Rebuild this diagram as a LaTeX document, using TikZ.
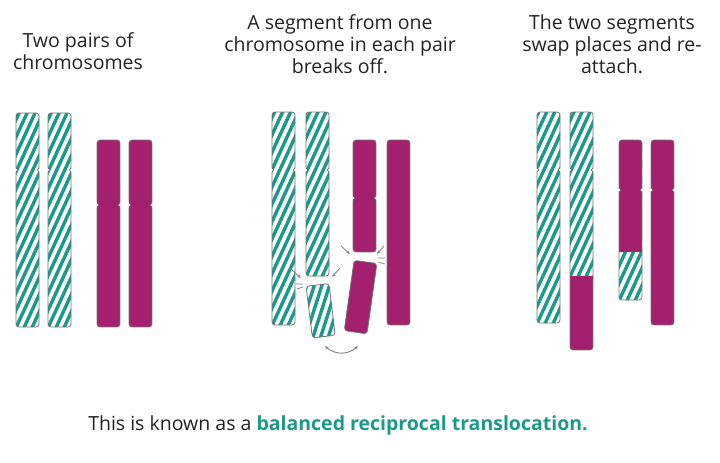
\documentclass[tikz,border=0pt]{standalone}
\usepackage{fontspec}
\setmainfont{Open Sans}
\usetikzlibrary{arrows.meta}
\definecolor{tl}{HTML}{1B9A8C}
\definecolor{mg}{HTML}{A3206E}
\definecolor{txt}{HTML}{222222}
\newcommand\gpart[3]{\fill[white](#1,#2) rectangle (#1+23,#3);
 \foreach \k in {-130,-122,...,30}{\draw[tl,line width=3.4pt] (#1+\k,#3+5) -- ++(120,-260);}}
\newcommand\mpart[3]{\fill[mg](#1,#2) rectangle (#1+23,#3);}
\newcommand\chrom[4]{\begin{scope}\clip[rounded corners=3](#1,#2) rectangle (#1+23,#3); #4 \end{scope}
 \draw[black!55,line width=0.8pt,rounded corners=3](#1,#2) rectangle (#1+23,#3);}
\newcommand\notch[2]{\fill[white] (#1-1,#2-2.5)--(#1+1.8,#2)--(#1-1,#2+2.5)--cycle; \fill[white] (#1+24,#2-2.5)--(#1+21.2,#2)--(#1+24,#2+2.5)--cycle;
 \draw[black!55,line width=0.8pt] (#1,#2-2)--(#1+1.8,#2)--(#1,#2+2) (#1+23,#2-2)--(#1+21.2,#2)--(#1+23,#2+2);}
\begin{document}
\begin{tikzpicture}[x=1pt,y=-1pt,
  ttl/.style={align=center,font=\fontsize{19.5}{22}\selectfont,text=txt},
  arr/.style={gray,line width=0.8pt,-{Stealth[length=4pt]}}]
\useasboundingbox (0,0) rectangle (720,463);
% titles
\node[ttl] (t1) at (78,51) {Two pairs of\\chromosomes};
\node[ttl] (t2) at (340,44) {A segment from one\\chromosome in each pair\\breaks off.};
\node[ttl] (t3) at (612,44) {The two segments\\swap places and re-\\attach.};
\node[ttl] (bt) at (338,425) {This is known as a \textcolor{tl}{\bfseries balanced reciprocal translocation.}};
% panel 1
\chrom{16}{113}{327}{\gpart{16}{113}{327}} \notch{16}{170}
\chrom{48}{113}{327}{\gpart{48}{113}{327}} \notch{48}{170}
\chrom{97}{140}{327}{\mpart{97}{140}{327}} \notch{97}{205}
\chrom{129}{140}{327}{\mpart{129}{140}{327}} \notch{129}{205}
% panel 2
\chrom{272}{112}{325}{\gpart{272}{112}{325}} \notch{272}{170}
\chrom{306}{112}{276}{\gpart{306}{112}{276}} \notch{306}{170}
\begin{scope}[rotate around={7:(317,285)}]
\chrom{306}{285}{337}{\gpart{306}{285}{337}}
\end{scope}
\chrom{353}{140}{252}{\mpart{353}{140}{252}} \notch{353}{198}
\begin{scope}[rotate around={-8:(366,262)}]
\chrom{354}{262}{333}{\mpart{354}{262}{333}}
\end{scope}
\chrom{387}{140}{325}{\mpart{387}{140}{325}}
% break arrows
\coordinate (a1) at (292,270); \coordinate (a1e) at (301,278);
\coordinate (a2) at (340,268); \coordinate (a2e) at (332,277);
\coordinate (a3) at (341,246); \coordinate (a3e) at (350,254);
\coordinate (a4) at (384,246); \coordinate (a4e) at (377,254);
\draw[arr] (a1) -- (a1e); \draw[arr] (a2) -- (a2e);
\draw[arr] (a3) -- (a3e); \draw[arr] (a4) -- (a4e);
\draw[gray,line width=0.7pt] (296,284)--(303,284) (297,289)--(303,287);
\draw[gray,line width=0.7pt] (378,258)--(385,258) (378,262)--(385,264);
\coordinate (s1) at (325,346); \coordinate (s2) at (358,346);
\draw[gray,line width=0.9pt,{Stealth[length=4pt]}-{Stealth[length=4pt]}] (s1) .. controls (335,355) and (348,355) .. (s2);
% panel 3
\chrom{537}{112}{323}{\gpart{537}{112}{323}} \notch{537}{170}
\chrom{570}{112}{350}{\gpart{570}{112}{276}\mpart{570}{276}{350}} \notch{570}{170}
\chrom{619}{140}{300}{\gpart{619}{252}{300}\mpart{619}{140}{252}} \notch{619}{190}
\chrom{651}{140}{325}{\mpart{651}{140}{325}} \notch{651}{190}
\end{tikzpicture}
\end{document}
